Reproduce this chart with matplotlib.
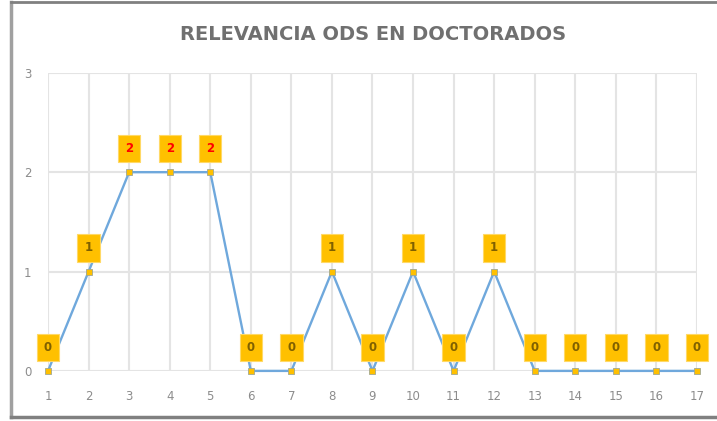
import matplotlib
matplotlib.use("Agg")
import matplotlib.pyplot as plt
from matplotlib.lines import Line2D

ods = list(range(1, 18))
relevancia = [0, 1, 2, 2, 2, 0, 0, 1, 0, 1, 0, 1, 0, 0, 0, 0, 0]
title = "RELEVANCIA ODS EN DOCTORADOS"
yticks = [0, 1, 2, 3]

fig = plt.figure(figsize=(7.17, 4.21), dpi=100)
ax = fig.add_axes([0.067, 0.119, 0.905, 0.708])

ax.plot(ods, relevancia, color="#6FA8DC", lw=1.7, zorder=3, clip_on=False,
        marker="s", markersize=5, markerfacecolor="#FFC000",
        markeredgecolor="#A0A890", markeredgewidth=0.6)

for x, y in zip(ods, relevancia):
    col = "#FF0000" if y == 2 else "#7F6000"
    ax.annotate(str(y), (x, y), xytext=(0, 17), textcoords="offset points",
                ha="center", va="center", fontsize=8.5, color=col, fontweight="bold",
                bbox=dict(boxstyle="square,pad=0.6", fc="#FFC000", ec="#FFD966", lw=0.8),
                zorder=5, annotation_clip=False)

ax.set_xlim(1, 17)
ax.set_ylim(0, 3)
ax.set_xticks(ods)
ax.set_yticks(yticks)
ax.grid(True, color="#E4E4E4", lw=1.5, zorder=0)
for s in ax.spines.values():
    s.set_visible(False)
ax.tick_params(length=0, colors="#8C8C8C", labelsize=8.5, pad=14)
ax.tick_params(axis="y", pad=12)

fig.text(0.52, 0.918, title, ha="center", va="center", fontsize=14,
         fontweight="semibold", color="#707070")

# outer chart border
fig.add_artist(Line2D([0.016, 0.016], [0.01, 0.995], color="#A0A0A0", lw=2.5))
fig.add_artist(Line2D([0.016, 1.0], [0.995, 0.995], color="#808080", lw=2))
fig.add_artist(Line2D([0.016, 1.0], [0.01, 0.01], color="#808080", lw=2.5))

fig.savefig("out.png", dpi=100)
